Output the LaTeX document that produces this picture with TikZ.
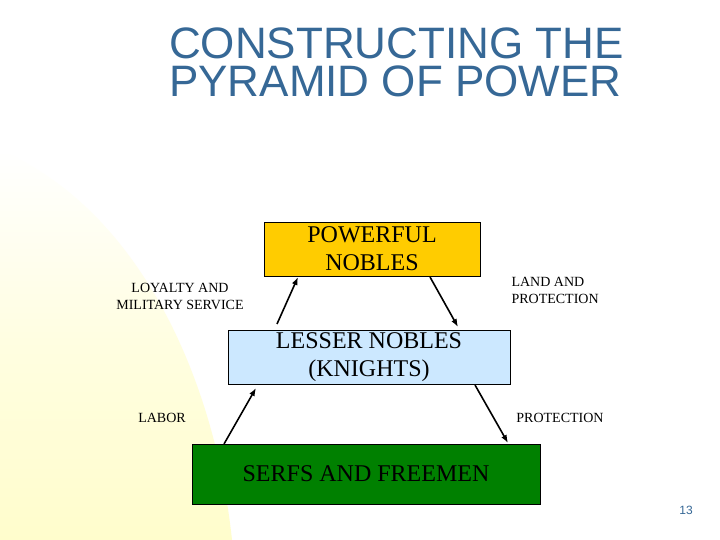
\documentclass[tikz,border=0pt]{standalone}
\usepackage{fontspec}
\setmainfont{Liberation Serif}
\newfontfamily\titlefont{Liberation Sans}
\usetikzlibrary{arrows.meta}
\definecolor{titleblue}{RGB}{54,104,150}
\definecolor{gold}{RGB}{255,204,0}
\definecolor{pale}{RGB}{204,232,255}
\definecolor{serf}{RGB}{0,128,0}
\definecolor{cream}{RGB}{255,253,204}
\begin{document}
\begin{tikzpicture}[x=1pt,y=-1pt,
  box/.style={draw=black,line width=0.8pt,inner sep=0pt,font=\fontsize{24}{28}\selectfont,align=center},
  lab/.style={font=\fontsize{14}{17}\selectfont,align=center},
  arr/.style={-{Latex[length=8pt,width=6pt]},line width=1.6pt}]
\useasboundingbox (0,0) rectangle (720,540);
\fill[white] (0,0) rectangle (720,540);
\shade[top color=white,bottom color=cream,middle color=cream!60] (0,150) .. controls (140,210) and (215,380) .. (232,540) -- (0,540) -- cycle;
\node[anchor=west,text=titleblue,font=\titlefont\fontsize{44}{38}\selectfont,align=left,inner sep=0pt] (title) at (169,62) {CONSTRUCTING THE\\PYRAMID OF POWER};
\node[box,fill=gold,minimum width=216pt,minimum height=54pt] (pn) at (372,249) {POWERFUL\\NOBLES};
\node[box,fill=pale,minimum width=282pt,minimum height=54pt] (ln) at (369,357) {LESSER NOBLES\\(KNIGHTS)};
\node[box,fill=serf,minimum width=348pt,minimum height=60pt] (sf) at (366,474) {SERFS AND FREEMEN};
\coordinate (a1) at (277,324); \coordinate (b1) at (298,277);
\coordinate (a2) at (430,277); \coordinate (b2) at (458,327);
\coordinate (a3) at (224,444); \coordinate (b3) at (256,388);
\coordinate (a4) at (475,385); \coordinate (b4) at (508,443);
\draw[arr] (a1) -- (b1);
\draw[arr] (a2) -- (b2);
\draw[arr] (a3) -- (b3);
\draw[arr] (a4) -- (b4);
\node[lab] (loy) at (180,296) {LOYALTY AND\\MILITARY SERVICE};
\node[lab,anchor=west,align=left] (land) at (508,290) {LAND AND\\PROTECTION};
\node[lab] (labor) at (162,418) {LABOR};
\node[lab] (prot) at (560,418) {PROTECTION};
\node[text=titleblue,font=\titlefont\fontsize{12}{14}\selectfont] (num) at (686,510) {13};
\end{tikzpicture}
\end{document}
